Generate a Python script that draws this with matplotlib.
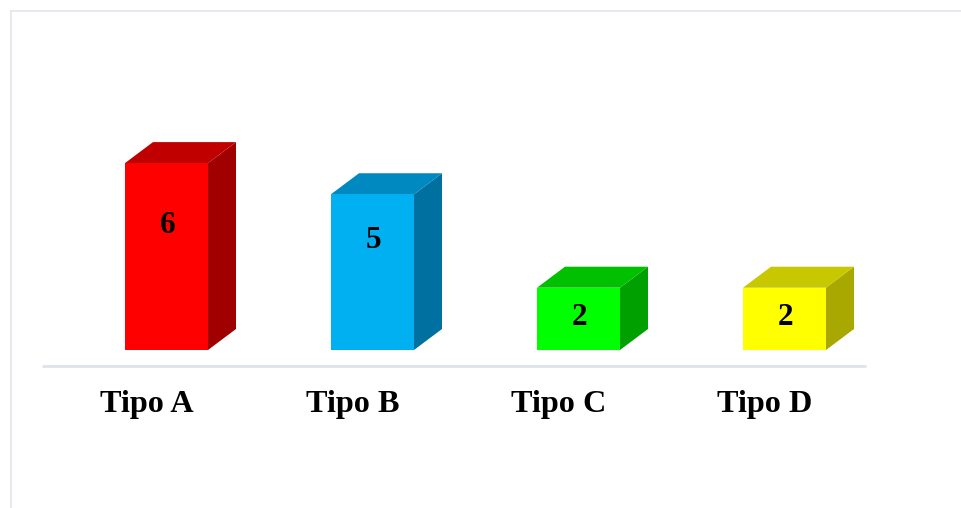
import matplotlib
matplotlib.use("Agg")
import matplotlib.pyplot as plt
from matplotlib.patches import Polygon, Rectangle
from matplotlib.lines import Line2D

categories = ["Tipo A", "Tipo B", "Tipo C", "Tipo D"]
values = [6, 5, 2, 2]
label_values = [4.0, 3.5, 1.03, 1.03]   # vertical placement of the value labels (data units)
front_colors = ["#ff0000", "#00b0f0", "#00ff00", "#ffff00"]
top_colors = ["#c00000", "#0088c0", "#00c000", "#c8c800"]
side_colors = ["#a00000", "#0070a0", "#00a000", "#a8a800"]

W, H = 962, 508
fig = plt.figure(figsize=(W / 100, H / 100), dpi=100)
ax = fig.add_axes([0, 0, 1, 1])
px_x = 206.0
px_y = 31.15
x0_px, y0_px = 145.0, 350.0
ax.set_xlim(-x0_px / px_x, (W - x0_px) / px_x)
ax.set_ylim(-(H - y0_px) / px_y, y0_px / px_y)
ax.axis("off")

left_off = -20 / px_x
bar_w = 83 / px_x
dx = 28 / px_x
dy = 21 / px_y
serif = ["Liberation Serif", "DejaVu Serif"]

for i, (v, fc, tc, sc) in enumerate(zip(values, front_colors, top_colors, side_colors)):
    xl = i + left_off
    xr = xl + bar_w
    ax.add_patch(Polygon([(xr, 0), (xr + dx, dy), (xr + dx, v + dy), (xr, v)],
                         closed=True, facecolor=sc, edgecolor="none"))
    ax.add_patch(Polygon([(xl, v), (xl + dx, v + dy), (xr + dx, v + dy), (xr, v)],
                         closed=True, facecolor=tc, edgecolor="none"))
    ax.add_patch(Rectangle((xl, 0), bar_w, v, facecolor=fc, edgecolor="none"))
    ax.text(xl + bar_w / 2 + 0.005, label_values[i], str(v), ha="center", va="center",
            fontsize=22.5, fontweight="bold", family=serif, color="black")
    ax.text(i + 0.01, -1.76, categories[i], ha="center", va="center",
            fontsize=23.2, fontweight="bold", family=serif, color="black")

# baseline
ax.plot([-0.5, len(categories) - 0.5], [-16 / px_y, -16 / px_y], color="#dfe2ea",
        linewidth=2, solid_capstyle="butt")

# outer border (top and left edges)
fig.add_artist(Line2D([10.5 / W, 10.5 / W], [0, 1 - 10.5 / H], transform=fig.transFigure,
                      color="#e2e5ee", linewidth=1.2))
fig.add_artist(Line2D([10.5 / W, 1], [1 - 10.5 / H, 1 - 10.5 / H], transform=fig.transFigure,
                      color="#e2e5ee", linewidth=1.2))

fig.savefig("out.png", dpi=100, facecolor="white")
